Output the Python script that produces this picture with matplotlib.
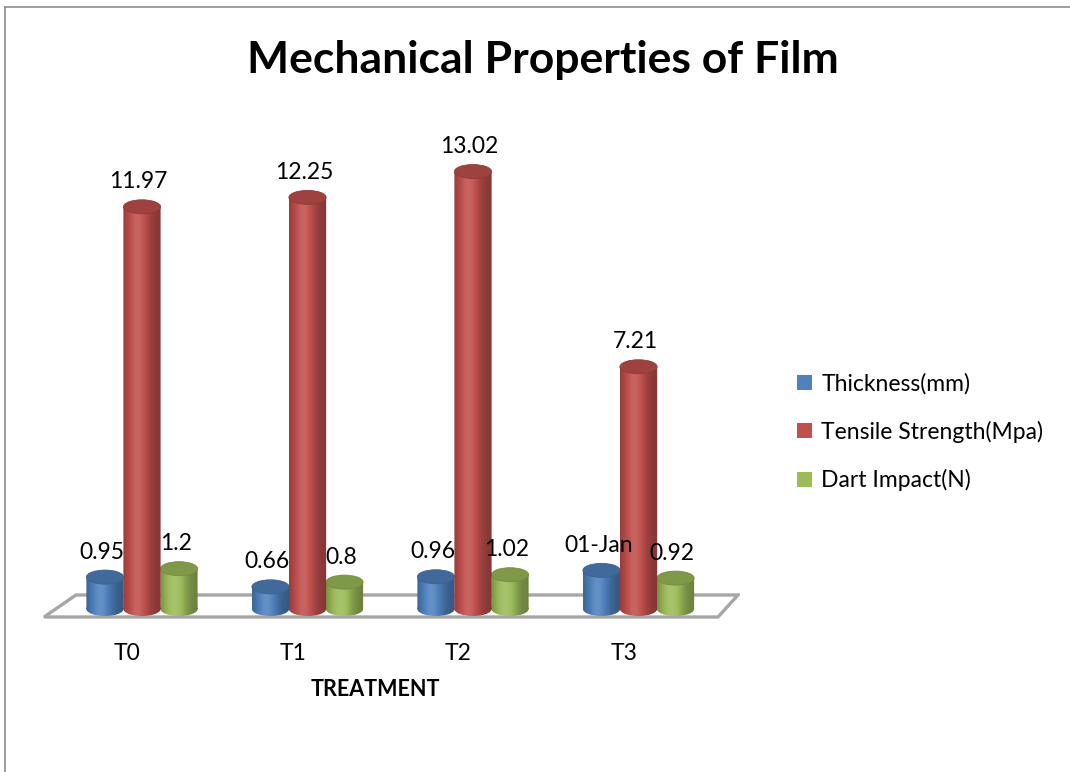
import matplotlib
matplotlib.use("Agg")
import matplotlib.pyplot as plt
import numpy as np
from matplotlib.patches import Rectangle, Ellipse, Polygon, PathPatch, Patch
from matplotlib.path import Path
from matplotlib.lines import Line2D

plt.rcParams["font.family"] = ["Lato", "DejaVu Sans"]

treatments = ["T0", "T1", "T2", "T3"]
series = ["Thickness(mm)", "Tensile Strength(Mpa)", "Dart Impact(N)"]
thickness = [0.95, 0.66, 0.96, 1.15]
tensile = [11.97, 12.25, 13.02, 7.21]
dart = [1.2, 0.8, 1.02, 0.92]
# the spreadsheet showed the last thickness cell with a date format
thickness_labels = ["0.95", "0.66", "0.96", "01-Jan"]
tensile_labels = ["11.97", "12.25", "13.02", "7.21"]
dart_labels = ["1.2", "0.8", "1.02", "0.92"]

colors = ["#4f81bd", "#c0504d", "#9bbb59"]

W, H = 1070, 772
fig = plt.figure(figsize=(W / 100, H / 100), dpi=100)
fig.patch.set_facecolor("white")

# axes box in pixels: x 40..740, y 100..640 (from top)
ax = fig.add_axes([40 / W, (H - 640) / H, 700 / W, 540 / H])
px_x = 165.5   # pixels per category
px_y = 33.6    # pixels per unit
ax.set_xlim((40 - 142) / px_x, (740 - 142) / px_x)
ax.set_ylim(-(640 - 609) / px_y, (609 - 100) / px_y)
ax.axis("off")

bar_w = 0.225
step = 37 / px_x
ell_h = 14 / px_y


def shade(color, n=64):
    c = np.array(matplotlib.colors.to_rgb(color))
    t = np.linspace(0, 1, n)
    f = 0.68 + 0.42 * np.exp(-((t - 0.38) / 0.33) ** 2)
    rows = []
    for k in f:
        if k <= 1:
            rows.append(c * k)
        else:
            rows.append(c + (1 - c) * (k - 1) * 1.2)
    return np.clip(np.array(rows), 0, 1)[None, :, :]


def cylinder(xc, v, color, z):
    x0 = xc - bar_w / 2
    rect = Rectangle((x0, 0), bar_w, v)
    bot = Ellipse((xc, 0), bar_w, ell_h)
    p1 = rect.get_patch_transform().transform_path(rect.get_path())
    p2 = bot.get_patch_transform().transform_path(bot.get_path())
    body = PathPatch(Path.make_compound_path(p1, p2), transform=ax.transData,
                     fill=False, lw=0, zorder=z)
    ax.add_patch(body)
    im = ax.imshow(shade(color), extent=[x0, x0 + bar_w, -ell_h, v + ell_h],
                   aspect="auto", zorder=z, interpolation="bilinear")
    im.set_clip_path(body)
    c = np.array(matplotlib.colors.to_rgb(color))
    ax.add_patch(Ellipse((xc, v), bar_w, ell_h, facecolor=c * 0.82,
                         edgecolor=c * 0.75, lw=0.6, zorder=z + 0.1))


# floor
floor = [(44, 617), (76, 595), (738, 595), (718, 617)]
floor_xy = [((x - 142) / px_x, -(y - 609) / px_y) for x, y in floor]
ax.add_patch(Polygon(floor_xy, closed=True, facecolor="white",
                     edgecolor="#a6a6a6", lw=2.4, zorder=1))

values = [thickness, tensile, dart]
labels = [thickness_labels, tensile_labels, dart_labels]
order = [0, 2, 1]
for i in range(len(treatments)):
    for j in order:
        xc = i + (j - 1) * step
        v = values[j][i]
        cylinder(xc, v, colors[j], 3 + i + (0.5 if j == 1 else 0))
        ax.text(xc - 0.02, v + 0.55, labels[j][i], ha="center", va="baseline",
                fontsize=16.5, color="black", zorder=20)

for i, t in enumerate(treatments):
    ax.text(i - 0.09, -(654 - 609) / px_y, t, ha="center", va="center",
            fontsize=16.5, clip_on=False)

fig.text(375 / W, 1 - 690 / H, "TREATMENT", ha="center", va="center",
         fontsize=15.5, fontweight="bold")
fig.text(543 / W, 1 - 60 / H, "Mechanical Properties of Film", ha="center",
         va="center", fontsize=32, fontweight="bold")

handles = [Patch(facecolor=c, edgecolor="none") for c in colors]
fig.legend(handles, series, loc="center left",
           bbox_to_anchor=(788 / W, 1 - 432 / H), frameon=False,
           fontsize=16.5, handlelength=0.65, handleheight=0.65,
           handletextpad=0.4, labelspacing=1.15, borderaxespad=0)

# chart area border (left and top edges)
fig.add_artist(Line2D([5 / W, 5 / W], [0, 1 - 7 / H], color="#8c8c8c",
                      lw=1.2, transform=fig.transFigure))
fig.add_artist(Line2D([5 / W, 1], [1 - 7 / H, 1 - 7 / H], color="#8c8c8c",
                      lw=1.2, transform=fig.transFigure))

fig.savefig("out.png", dpi=100)
